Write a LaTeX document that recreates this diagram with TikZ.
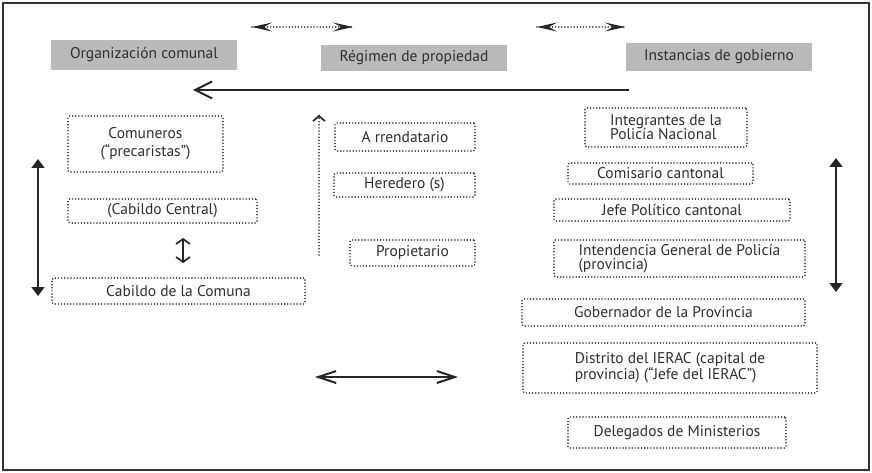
\documentclass[tikz,border=0pt]{standalone}
\usepackage{fontspec}
\setmainfont{PT Sans}
\usetikzlibrary{arrows.meta}

\begin{document}
\begin{tikzpicture}[x=1pt,y=-1pt,font=\fontsize{15.5}{16}\selectfont,
  every node/.style={inner sep=2pt,text=black!82},
  titulo/.style={fill=black!27,minimum width=186pt},
  caja/.style={draw=black!85,line width=1.7pt,dash pattern=on 0pt off 3.1pt,line cap=round,rounded corners=1.5pt},
  punteada/.style={black!85,line width=1.7pt,dash pattern=on 0pt off 3.1pt,line cap=round},
  puntas/.style={tips,black!85,line width=1.7pt,{Stealth[length=20pt,width=9pt,inset=8pt]}-{Stealth[length=20pt,width=9pt,inset=8pt]}},
  flecha/.style={black!85,line width=2pt,-{Straight Barb[length=17pt,width=17pt]}},
  doble/.style={black!85,line width=2pt,{Straight Barb[length=18pt,width=12pt]}-{Straight Barb[length=18pt,width=12pt]}},
  vertical/.style={black!85,line width=1.7pt,{Triangle[length=9pt,width=13pt]}-{Triangle[length=9pt,width=13pt]}}]
  \useasboundingbox (0,0) rectangle (872,473);
  \draw[black!80,line width=1.3pt] (3,3) rectangle (869,470);
  \node[titulo,minimum height=30pt] (oc) at (144,55) {Organización comunal};
  \node[titulo,minimum height=26pt] (rp) at (414,58) {Régimen de propiedad};
  \node[titulo,minimum height=28pt] (ig) at (719,57) {Instancias de gobierno};
  \node[caja,minimum width=155pt,minimum height=56pt,align=center] (com) at (145.5,144) {Comuneros\\[2pt](“precaristas”)};
  \node[caja,minimum width=189pt,minimum height=24pt] (cc) at (162.5,211) {(Cabildo Central)};
  \node[caja,minimum width=253pt,minimum height=26pt] (cco) at (178.5,291) {Cabildo de la Comuna};
  \node[caja,minimum width=140pt,minimum height=28pt] (arr) at (405,137) {A rrendatario};
  \node[caja,minimum width=141pt,minimum height=24pt] (her) at (404.5,185) {Heredero (s)};
  \node[caja,minimum width=125pt,minimum height=26pt] (pro) at (412.5,253) {Propietario};
  \node[caja,minimum width=162pt,minimum height=39pt,align=left] (pn) at (666,127.5) {Integrantes de la\\[-2pt]Policía Nacional};
  \node[caja,minimum width=185pt,minimum height=21pt] (cca) at (660.5,173.5) {Comisario cantonal};
  \node[caja,minimum width=236pt,minimum height=22pt] (jpc) at (672,210) {Jefe Político cantonal};
  \node[caja,minimum width=251pt,minimum height=37pt,align=left] (igp) at (679.5,258.5) {Intendencia General de Policía\\[-2pt](provincia)};
  \node[caja,minimum width=283pt,minimum height=27pt] (gob) at (663.5,312.5) {Gobernador de la Provincia};
  \node[caja,minimum width=294pt,minimum height=50pt,align=left] (ier) at (670,368) {Distrito del IERAC (capital de\\provincia) (“Jefe del IERAC”)};
  \node[caja,minimum width=218pt,minimum height=31pt] (del) at (677,432.5) {Delegados de Ministerios};
  \coordinate (s1) at (252,27); \coordinate (s2) at (353,27);
  \coordinate (s3) at (537,27); \coordinate (s4) at (625,27);
  \coordinate (h1) at (629,90); \coordinate (h2) at (193,90);
  \coordinate (b1) at (315,377); \coordinate (b2) at (458,377);
  \coordinate (v1) at (38,159); \coordinate (v2) at (38,296);
  \coordinate (v3) at (836,158); \coordinate (v4) at (836,292);
  \coordinate (c1) at (183,238); \coordinate (c2) at (183,263);
  \coordinate (m1) at (319,255); \coordinate (m2) at (319,115);
  \draw[punteada] (s1) -- (s2);
  \path[puntas] (s1) -- (s2);
  \draw[punteada] (s3) -- (s4);
  \path[puntas] (s3) -- (s4);
  \draw[flecha] (h1) -- (h2);
  \draw[doble] (b1) -- (b2);
  \draw[vertical] (v1) -- (v2);
  \draw[vertical] (v3) -- (v4);
  \draw[black!85,line width=1.7pt,{Straight Barb[length=5pt,width=14pt]}-{Straight Barb[length=5pt,width=14pt]}] (c1) -- (c2);
  \draw[punteada] (m1) -- (m2);
  \path[tips,black!85,line width=1.7pt,-{Straight Barb[length=5pt,width=12pt]}] (m1) -- (m2);
\end{tikzpicture}
\end{document}
